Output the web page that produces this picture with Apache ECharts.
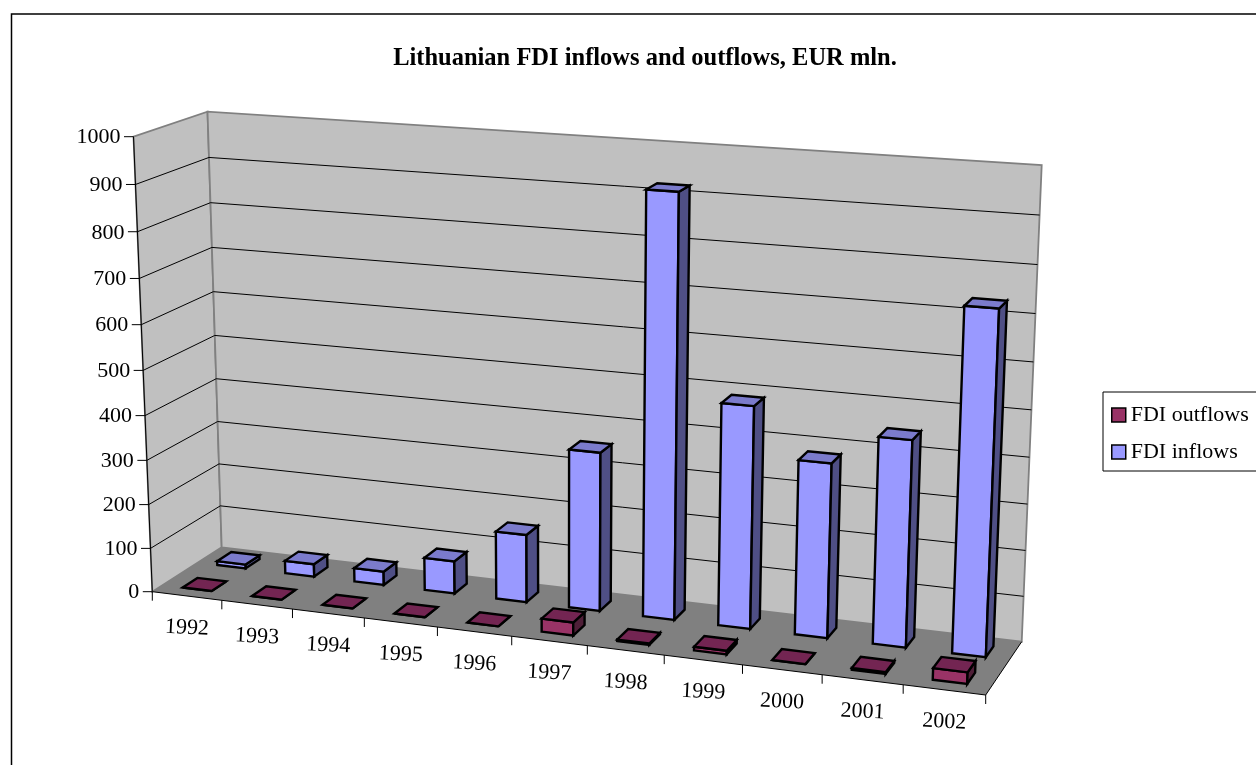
<!DOCTYPE html>
<html>
<head>
<meta charset="utf-8">
<style>
  html, body { margin: 0; padding: 0; background: #fff; overflow: hidden; }
  #chart { width: 1256px; height: 765px; }
</style>
<script src="https://cdn.jsdelivr.net/npm/echarts@6/dist/echarts.min.js"></script>
</head>
<body>
<div id="chart"></div>
<script>
const categories = ['1992', '1993', '1994', '1995', '1996', '1997', '1998', '1999', '2000', '2001', '2002'];
const fdiInflows = [9, 29, 31, 74, 153, 354, 921, 487, 381, 447, 733];
const fdiOutflows = [0, 0, 0, 0, 0, 29, 3, 8, 0, 4, 25];
const valueTicks = [0, 100, 200, 300, 400, 500, 600, 700, 800, 900, 1000];

const FONT = '"Liberation Serif", "Times New Roman", serif';

// hidden plot rectangle, only used to go through the axis scales
const G = { left: 100, top: 100, width: 800, height: 400 };

// corners of the drawn box: [u][v][w] = along years, up, into the page
const box = {
  p000: [152.3, 591.7], p100: [985.7, 695], p010: [133.5, 136.7], p110: [1004, 197],
  p001: [221.7, 547.3], p101: [1021.7, 641.7], p011: [207.5, 111.7], p111: [1041.7, 165]
};
// perspective foreshortening of each direction
const persp = (t, k) => t * (1 + k) / (1 + k * t);
const lerp = (a, b, t) => [a[0] + (b[0] - a[0]) * t, a[1] + (b[1] - a[1]) * t];

function project(u, v, w) {
  const s = persp(u, -0.09), t = persp(v, -0.053), r = persp(w, 0.046);
  const front = lerp(lerp(box.p000, box.p100, s), lerp(box.p010, box.p110, s), t);
  const back = lerp(lerp(box.p001, box.p101, s), lerp(box.p011, box.p111, s), t);
  return lerp(front, back, r);
}

// axis value -> unit box coordinates
function unit(api, i, val) {
  const c = api.coord([i, val]);
  const band = api.size([1, 0])[0];
  return { u: (c[0] - G.left) / G.width, v: (G.top + G.height - c[1]) / G.height, du: band / G.width };
}

const poly = (points, fill, stroke, lw) => ({
  type: 'polygon',
  shape: { points: points },
  style: { fill: fill, stroke: stroke, lineWidth: lw, lineJoin: 'miter' }
});
const line = (points, stroke, lw) => ({
  type: 'polyline',
  shape: { points: points },
  style: { fill: 'none', stroke: stroke, lineWidth: lw }
});

function renderFrame() {
  return {
    type: 'group',
    children: [
      poly([project(0, 0, 0), project(0, 1, 0), project(0, 1, 1), project(0, 0, 1)], '#c0c0c0', '#808080', 1.8),
      poly([project(0, 0, 1), project(0, 1, 1), project(1, 1, 1), project(1, 0, 1)], '#c0c0c0', '#808080', 1.8),
      poly([project(0, 0, 0), project(1, 0, 0), project(1, 0, 1), project(0, 0, 1)], '#808080', 'none', 0),
      line([project(0, 1, 0), project(0, 0, 0), project(1, 0, 0), project(1, 0, 1)], '#000', 1)
    ]
  };
}

function renderValueTick(params, api) {
  const val = api.value(1);
  const { v } = unit(api, 0, val);
  const p = project(0, v, 0);
  const children = [
    line([[p[0] - 9.5, p[1]], p], '#000', 1),
    {
      type: 'text',
      x: p[0] - 13,
      y: p[1] + 1,
      style: { text: String(val), font: '22px ' + FONT, fill: '#000', align: 'right', verticalAlign: 'middle' }
    }
  ];
  if (val > 0 && val < 1000) {
    children.push(line([p, project(0, v, 1), project(1, v, 1)], '#000', 1));
  }
  return { type: 'group', children: children };
}

function renderCategory(params, api) {
  const i = api.value(0);
  const { u, du } = unit(api, i, 0);
  const start = project(u - du / 2, 0, 0);
  const end = project(u + du / 2, 0, 0);
  const mid = project(u, 0, 0);
  const children = [line([[end[0], end[1]], [end[0], end[1] + 9]], '#000', 1)];
  if (i === 0) {
    children.push(line([[start[0], start[1]], [start[0], start[1] + 9]], '#000', 1));
  }
  children.push({
    type: 'text',
    x: mid[0],
    y: mid[1] + 32,
    rotation: -0.05,
    style: { text: categories[i], font: '22px ' + FONT, fill: '#000', align: 'center', verticalAlign: 'middle' }
  });
  return { type: 'group', children: children };
}

// one 3D column: wMin..wMax is the row this series stands in
function barRenderer(wMin, wMax, front, side, top) {
  return function (params, api) {
    const { u, v, du } = unit(api, api.value(0), api.value(1));
    const half = du * 0.21;
    const a = u - half, b = u + half;
    return {
      type: 'group',
      children: [
        poly([project(a, 0, wMin), project(b, 0, wMin), project(b, v, wMin), project(a, v, wMin)], front, '#000', 2.4),
        poly([project(b, 0, wMin), project(b, 0, wMax), project(b, v, wMax), project(b, v, wMin)], side, '#000', 2.4),
        poly([project(a, v, wMin), project(b, v, wMin), project(b, v, wMax), project(a, v, wMax)], top, '#000', 2.4)
      ]
    };
  };
}

const toPoints = (vals) => vals.map((val, i) => [i, val]);

const chart = echarts.init(document.getElementById('chart'));
chart.setOption({
  animation: false,
  backgroundColor: '#fff',
  title: {
    text: 'Lithuanian FDI inflows and outflows, EUR mln.',
    left: 640,
    top: 41,
    textAlign: 'center',
    textStyle: { fontFamily: FONT, fontSize: 24.5, fontWeight: 'bold', color: '#000' }
  },
  legend: {
    data: ['FDI outflows', 'FDI inflows'],
    orient: 'vertical',
    left: 1103,
    top: 392,
    padding: [12, 30, 8, 8],
    itemGap: 15,
    itemWidth: 14,
    itemHeight: 14,
    icon: 'rect',
    itemStyle: { borderColor: '#000', borderWidth: 1.5 },
    borderColor: '#000',
    borderWidth: 1,
    textStyle: { fontFamily: FONT, fontSize: 22, color: '#000', padding: [0, 0, 0, 0] }
  },
  grid: G,
  xAxis: { type: 'category', data: categories, show: false },
  yAxis: { type: 'value', min: 0, max: 1000, show: false },
  graphic: [{
    type: 'polyline',
    silent: true,
    shape: { points: [[11.5, 780], [11.5, 14], [1270, 14]] },
    style: { fill: 'none', stroke: '#000', lineWidth: 1.5 }
  }],
  series: [
    { type: 'custom', name: 'frame', z: 1, silent: true, renderItem: renderFrame, data: [[0, 0]], encode: { x: 0, y: 1 } },
    { type: 'custom', name: 'value ticks', z: 2, silent: true, renderItem: renderValueTick, data: valueTicks.map((t) => [0, t]), encode: { x: 0, y: 1 } },
    { type: 'custom', name: 'categories', z: 2, silent: true, renderItem: renderCategory, data: categories.map((c, i) => [i, 0]), encode: { x: 0, y: 1 } },
    {
      type: 'custom', name: 'FDI inflows', z: 3,
      itemStyle: { color: '#9999ff' },
      renderItem: barRenderer(0.645, 0.855, '#9999ff', '#4f4f85', '#7b7bcc'),
      data: toPoints(fdiInflows), encode: { x: 0, y: 1 }
    },
    {
      type: 'custom', name: 'FDI outflows', z: 4,
      itemStyle: { color: '#993366' },
      renderItem: barRenderer(0.145, 0.355, '#993366', '#4f1f38', '#732552'),
      data: toPoints(fdiOutflows), encode: { x: 0, y: 1 }
    }
  ]
});
</script>
</body>
</html>
